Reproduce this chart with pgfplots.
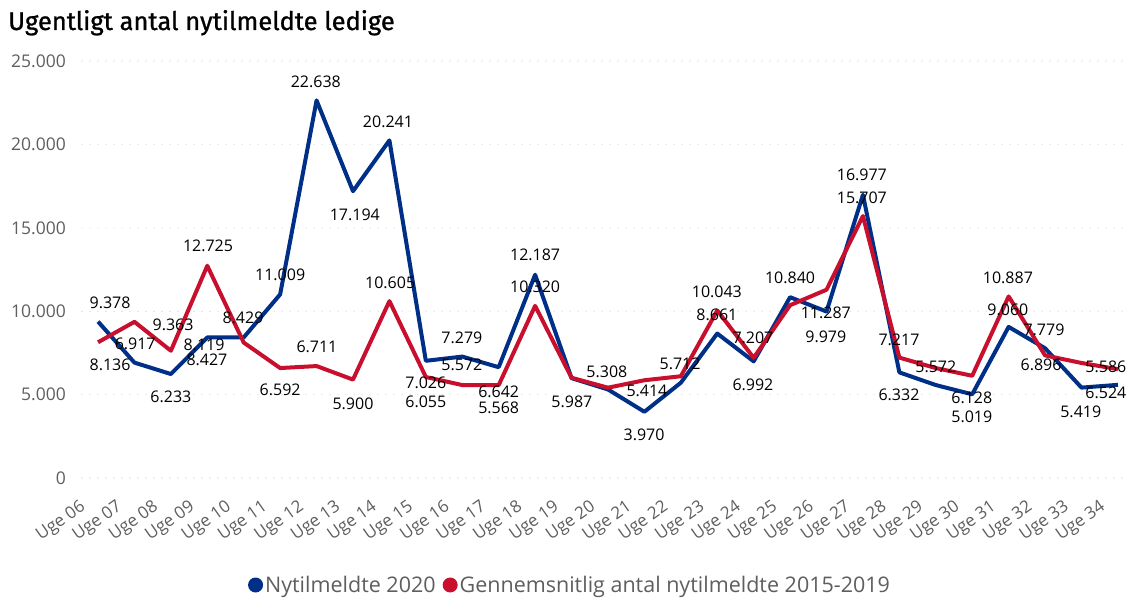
\documentclass[border=0pt]{standalone}
\usepackage{fontspec}
\setmainfont{Open Sans}
\newfontfamily\titlefont[FakeBold=1]{Fira Sans}
\usepackage{pgfplots}
\usepackage{pgfplotstable}
\pgfplotsset{compat=1.18}

\definecolor{navy}{HTML}{002F87}
\definecolor{crim}{HTML}{C8102E}
\definecolor{ticktxt}{HTML}{605E5C}
\definecolor{gridc}{HTML}{C8C6C4}

% weeks 06..34 as 0..28
\pgfplotstableread{
x y
0 9378
1 6917
2 6233
3 8427
4 8429
5 11009
6 22638
7 17194
8 20241
9 7026
10 7279
11 6642
12 12187
13 5987
14 5308
15 3970
16 5712
17 8661
18 6992
19 10840
20 9979
21 16977
22 6332
23 5572
24 5019
25 9060
26 7779
27 5419
28 5586
}\nyt

\pgfplotstableread{
x y
0 8136
1 9363
2 7630
3 12725
4 8119
5 6592
6 6711
7 5900
8 10605
9 6055
10 5572
11 5568
12 10320
13 6010
14 5414
15 5860
16 6100
17 10043
18 7207
19 10360
20 11287
21 15707
22 7217
23 6590
24 6128
25 10887
26 7350
27 6896
28 6524
}\gns

\begin{document}
\begin{tikzpicture}[lbl/.style={inner sep=0pt, anchor=center, font=\fontsize{16}{18}\selectfont, text=black}]
\path[use as bounding box] (0,0) rectangle (1129pt,598pt);
\node[anchor=base west, inner sep=0pt] at (8pt,568pt) {\titlefont\fontsize{25.5}{30}\selectfont Ugentligt antal nytilmeldte ledige};
\begin{axis}[
  at={(82pt,120pt)}, anchor=south west,
  scale only axis, width=1045pt, height=417pt,
  xmin=-0.44, xmax=28.25, ymin=0, ymax=25000,
  clip=false, scaled y ticks=false,
  axis line style={draw=none}, tick style={draw=none},
  ymajorgrids, grid style={gridc, line width=1.1pt, dash pattern=on 0pt off 8pt, line cap=round},
  ytick={0,5000,10000,15000,20000,25000},
  yticklabels={0,5.000,10.000,15.000,20.000,25.000},
  yticklabel style={anchor=east, inner sep=0pt, xshift=-16pt, font=\fontsize{17.5}{20}\selectfont, text=ticktxt},
  xtick={0,...,28},
  xticklabels={Uge 06,Uge 07,Uge 08,Uge 09,Uge 10,Uge 11,Uge 12,Uge 13,Uge 14,Uge 15,Uge 16,Uge 17,Uge 18,Uge 19,Uge 20,Uge 21,Uge 22,Uge 23,Uge 24,Uge 25,Uge 26,Uge 27,Uge 28,Uge 29,Uge 30,Uge 31,Uge 32,Uge 33,Uge 34},
  xticklabel style={xshift=-19pt, yshift=-21pt, rotate=35, anchor=north east, inner sep=0pt, font=\fontsize{17}{20}\selectfont, text=ticktxt},
  legend style={at={(0.467,-0.2566)}, anchor=center, draw=none, fill=none, font=\fontsize{21.5}{24}\selectfont, text=ticktxt, inner sep=0pt},
  legend columns=2,
  legend image code/.code={\fill[#1, draw=none] (5pt,0pt) circle (7.5pt);},
  /tikz/every even column/.append style={column sep=5pt},
]
\addplot[navy, line width=4pt, line join=round] table {\nyt};
\addlegendentry{Nytilmeldte 2020}
\addplot[crim, line width=4pt, line join=round] table {\gns};
\addlegendentry{Gennemsnitlig antal nytilmeldte 2015-2019}

\node[lbl] at (axis cs:0.33,10491) {9.378};
\node[lbl] at (axis cs:0.33,6774) {8.136};
\node[lbl] at (axis cs:1.02,8033) {6.917};
\node[lbl] at (axis cs:2.06,9172) {9.363};
\node[lbl] at (axis cs:2.0,4856) {6.233};
\node[lbl] at (axis cs:2.91,7973) {8.119};
\node[lbl] at (axis cs:2.99,7074) {8.427};
\node[lbl] at (axis cs:3.02,13908) {12.725};
\node[lbl] at (axis cs:3.98,9592) {8.429};
\node[lbl] at (axis cs:5.0,12170) {11.009};
\node[lbl] at (axis cs:5.0,5276) {6.592};
\node[lbl] at (axis cs:6.01,7853) {6.711};
\node[lbl] at (axis cs:5.98,23740) {22.638};
\node[lbl] at (axis cs:7.0,4436) {5.900};
\node[lbl] at (axis cs:7.05,15767) {17.194};
\node[lbl] at (axis cs:7.96,21342) {20.241};
\node[lbl] at (axis cs:8.02,11690) {10.605};
\node[lbl] at (axis cs:9.0,5695) {7.026};
\node[lbl] at (axis cs:9.0,4556) {6.055};
\node[lbl] at (axis cs:9.99,8393) {7.279};
\node[lbl] at (axis cs:9.99,6774) {5.572};
\node[lbl] at (axis cs:11.0,5156) {6.642};
\node[lbl] at (axis cs:11.0,4197) {5.568};
\node[lbl] at (axis cs:12.0,13369) {12.187};
\node[lbl] at (axis cs:12.0,11450) {10.320};
\node[lbl] at (axis cs:13.01,4556) {5.987};
\node[lbl] at (axis cs:13.97,6355) {5.308};
\node[lbl] at (axis cs:15.07,5216) {5.414};
\node[lbl] at (axis cs:14.99,2578) {3.970};
\node[lbl] at (axis cs:15.98,6834) {5.712};
\node[lbl] at (axis cs:16.99,11151) {10.043};
\node[lbl] at (axis cs:16.99,9772) {8.661};
\node[lbl] at (axis cs:17.98,8393) {7.207};
\node[lbl] at (axis cs:17.98,5575) {6.992};
\node[lbl] at (axis cs:19.0,11990) {10.840};
\node[lbl] at (axis cs:19.98,9892) {11.287};
\node[lbl] at (axis cs:19.98,8453) {9.979};
\node[lbl] at (axis cs:20.97,18165) {16.977};
\node[lbl] at (axis cs:20.97,16786) {15.707};
\node[lbl] at (axis cs:21.99,8273) {7.217};
\node[lbl] at (axis cs:21.99,4976) {6.332};
\node[lbl] at (axis cs:23.0,6654) {5.572};
\node[lbl] at (axis cs:23.99,4796) {6.128};
\node[lbl] at (axis cs:23.99,3657) {5.019};
\node[lbl] at (axis cs:24.98,11990) {10.887};
\node[lbl] at (axis cs:24.98,10072) {9.060};
\node[lbl] at (axis cs:25.97,8873) {7.779};
\node[lbl] at (axis cs:25.89,6774) {6.896};
\node[lbl] at (axis cs:27.67,6654) {5.586};
\node[lbl] at (axis cs:27.67,5096) {6.524};
\node[lbl] at (axis cs:26.98,3957) {5.419};
\end{axis}
\end{tikzpicture}
\end{document}
